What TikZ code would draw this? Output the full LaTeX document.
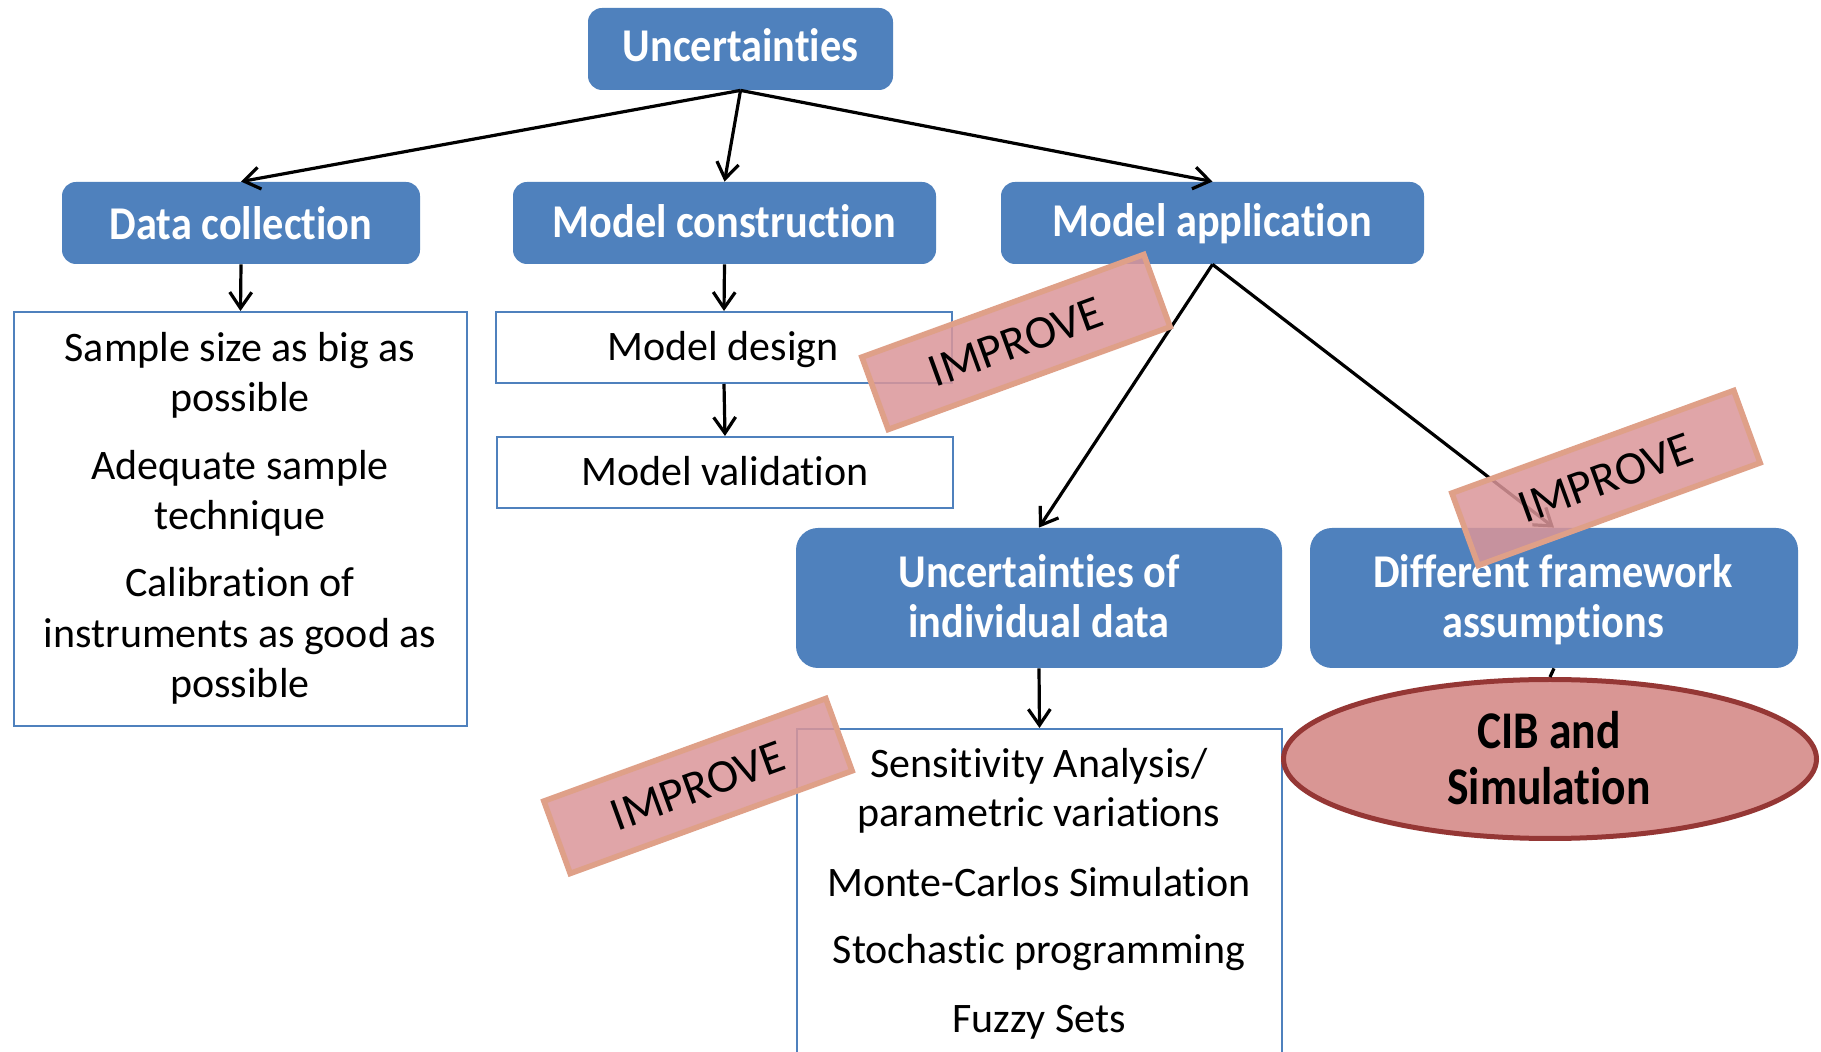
\documentclass[tikz,border=0pt]{standalone}
\usepackage{fontspec}
\setmainfont{Carlito}[RawFeature={-liga}]
\newfontfamily\headfont[FakeStretch=0.9,RawFeature={-liga}]{Carlito}
\newfontfamily\ovalfont[FakeStretch=0.86,RawFeature={-liga}]{Carlito}
\usetikzlibrary{arrows.meta,shapes.geometric}
\definecolor{boxblue}{RGB}{79,129,189}
\definecolor{stampfill}{RGB}{219,150,153}
\definecolor{stampedge}{RGB}{223,160,136}
\definecolor{ovalfill}{RGB}{217,150,148}
\definecolor{ovaledge}{RGB}{149,55,53}
\begin{document}
\begin{tikzpicture}[x=0.5pt,y=-0.5pt,
  head/.style={fill=boxblue, draw=none, rounded corners=7pt, inner sep=0pt},
  tallhead/.style={head, rounded corners=11pt},
  plain/.style={draw=boxblue, line width=1pt, fill=white, inner sep=0pt},
  headtext/.style={text=white, font=\headfont\bfseries\fontsize{23.5}{25}\selectfont, inner sep=0pt, anchor=base},
  bodytext/.style={text=black, font=\fontsize{21}{25}\selectfont, inner sep=0pt, anchor=base},
  ovaltext/.style={text=black, font=\ovalfont\bfseries\fontsize{26.5}{28}\selectfont, inner sep=0pt, anchor=base},
  conn/.style={line width=1.6pt, -{Straight Barb[length=8pt,width=11pt]}},
  stamp/.style={draw=stampedge, line width=2.8pt, fill=stampfill, fill opacity=0.85,
    text opacity=1, rotate=20, minimum width=150pt, minimum height=38.5pt,
    inner sep=0pt, font=\fontsize{23.5}{25}\selectfont}
]
\useasboundingbox (0,0) rectangle (1821,1052);
\clip (0,0) rectangle (1821,1052);
\fill[white] (0,0) rectangle (1821,1052);

% top level
\node[head, minimum width=152.5pt, minimum height=41pt] (unc) at (740.5,49) {};
\node[headtext] (uncT) at (740.5,62) {Uncertainties};

% second level
\node[head, minimum width=179pt, minimum height=41pt] (dc) at (241,223) {};
\node[headtext] (dcT) at (241,240) {Data collection};
\node[head, minimum width=211.5pt, minimum height=41pt] (mc) at (724.5,223) {};
\node[headtext] (mcT) at (724.5,238) {Model construction};
\node[head, minimum width=211.5pt, minimum height=41pt] (ma) at (1212.5,223) {};
\node[headtext] (maT) at (1212,237) {Model application};

% data collection measures
\node[plain, minimum width=226.5pt, minimum height=207pt] (dbox) at (240.5,519) {};
\node[bodytext] (d1) at (240,362) {Sample size as big as};
\node[bodytext] (d2) at (240,412) {possible};
\node[bodytext] (d3) at (240,480) {Adequate sample};
\node[bodytext] (d4) at (240,530) {technique};
\node[bodytext] (d5) at (240,597) {Calibration of};
\node[bodytext] (d6) at (240,648) {instruments as good as};
\node[bodytext] (d7) at (240,698) {possible};

% model construction steps
\node[plain, minimum width=228pt, minimum height=35.5pt] (md) at (724,347.5) {};
\node[bodytext] (mdT) at (723,361) {Model design};
\node[plain, minimum width=228pt, minimum height=35.5pt] (mv) at (725,472.5) {};
\node[bodytext] (mvT) at (725,486) {Model validation};

% model application branches
\node[tallhead, minimum width=243pt, minimum height=70pt] (ind) at (1039,598) {};
\node[headtext] (ind1) at (1039,588) {Uncertainties of};
\node[headtext] (ind2) at (1039,638) {individual data};
\node[tallhead, minimum width=244pt, minimum height=70pt] (dfa) at (1554,598) {};
\node[headtext] (dfa1) at (1553,588) {Different framework};
\node[headtext] (dfa2) at (1553,638) {assumptions};

% methods for individual data
\node[plain, minimum width=242.5pt, minimum height=170.5pt] (mbox) at (1039.5,899.5) {};
\node[bodytext] (m1) at (1039,778) {Sensitivity Analysis/};
\node[bodytext] (m2) at (1039,827) {parametric variations};
\node[bodytext] (m3) at (1039,897) {Monte-Carlos Simulation};
\node[bodytext] (m4) at (1039,963) {Stochastic programming};
\node[bodytext] (m5) at (1039,1032) {Fuzzy Sets};

% connectors
\draw[conn] (unc.south) -- (dc.north);
\draw[conn] (unc.south) -- (mc.north);
\draw[conn] (unc.south) -- (ma.north);
\draw[conn] (dc.south) -- (dbox.north);
\draw[conn] (mc.south) -- (md.north);
\draw[conn] (md.south) -- (mv.north);
\draw[conn] (ma.south) -- (ind.north);
\draw[conn] (ma.south) -- (dfa.north);
\draw[conn] (ind.south) -- (mbox.north);

% framework assumptions -> CIB
\node[ellipse, draw=ovaledge, line width=2.5pt, fill=ovalfill, minimum width=266.5pt,
      minimum height=79.5pt, inner sep=0pt] (cib) at (1550,759) {};
\draw[line width=1.6pt] (dfa.south) -- (cib.north);
\node[ovaltext] (cib1) at (1549,749) {CIB and};
\node[ovaltext] (cib2) at (1549,805) {Simulation};

% improvement stamps
\node[stamp] (imp1) at (1016,342) {IMPROVE};
\node[stamp] (imp2) at (1606,478) {IMPROVE};
\node[stamp] (imp3) at (698,786) {IMPROVE};
\end{tikzpicture}
\end{document}
